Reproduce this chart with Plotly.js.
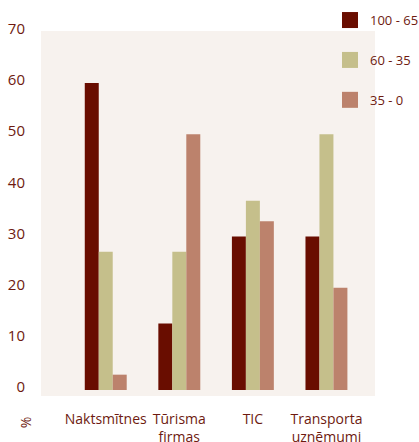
<!DOCTYPE html>
<html>
<head>
<meta charset="utf-8">
<script src="https://cdn.plot.ly/plotly-3.0.1.min.js"></script>
<style>html,body{margin:0;padding:0;background:#fff;}#chart{width:419px;height:442px;}</style>
</head>
<body>
<div id="chart"></div>
<script>
const categories = ['Naktsmītnes', 'Tūrisma<br>firmas', 'TIC', 'Transporta<br>uzņēmumi'];
const seriesNames = ['100 - 65', '60 - 35', '35 - 0'];
const high = [60, 13, 30, 30];
const mid = [27, 27, 37, 50];
const low = [3, 50, 33, 20];
const yTicks = [0, 10, 20, 30, 40, 50, 60, 70];

const colors = ['#690d00', '#c5bf8b', '#bc826c'];
const textColor = '#6e1a10';
const values = [high, mid, low];

const traces = [];
values.forEach((v, i) => {
  traces.push({
    type: 'bar', x: categories, y: v, name: seriesNames[i],
    marker: {color: colors[i]}, showlegend: false, legendgroup: 'g' + i,
    hoverinfo: 'y'
  });
});
values.forEach((v, i) => {
  traces.push({
    type: 'scatter', mode: 'markers', x: [null], y: [null], name: seriesNames[i],
    marker: {symbol: 'square', size: 16, color: colors[i]},
    legendgroup: 'g' + i, showlegend: true
  });
});

const layout = {
  width: 419, height: 442,
  margin: {l: 41, r: 44, t: 31, b: 46, pad: 0, autoexpand: false},
  paper_bgcolor: '#ffffff',
  plot_bgcolor: '#f7f2ee',
  font: {family: '"Open Sans", sans-serif', size: 14, color: textColor},
  barmode: 'group', bargap: 0.43, bargroupgap: 0,
  xaxis: {
    type: 'category', range: [-0.88, 3.66], showgrid: false, zeroline: false,
    showline: false, ticks: '', ticklabelstandoff: 13, tickangle: 0,
    tickfont: {size: 14, color: textColor}, fixedrange: true
  },
  yaxis: {
    range: [-1.17, 70.16], tickvals: yTicks, showgrid: false, zeroline: false,
    showline: false, ticks: '', ticklabelstandoff: 15, ticklabelshift: -3,
    tickfont: {size: 15, color: textColor}, fixedrange: true
  },
  legend: {
    x: (330 - 41) / 334, xanchor: 'left', y: 1.071, yanchor: 'top',
    bgcolor: 'rgba(0,0,0,0)', font: {size: 13, color: textColor},
    tracegroupgap: 20, itemsizing: 'trace'
  },
  annotations: [{
    text: '%', xref: 'paper', yref: 'paper', x: -0.048, y: -0.072,
    xanchor: 'center', yanchor: 'middle',
    showarrow: false, textangle: -90, font: {size: 14, color: textColor}
  }]
};

Plotly.newPlot('chart', traces, layout, {displayModeBar: false, staticPlot: true});
</script>
</body>
</html>
